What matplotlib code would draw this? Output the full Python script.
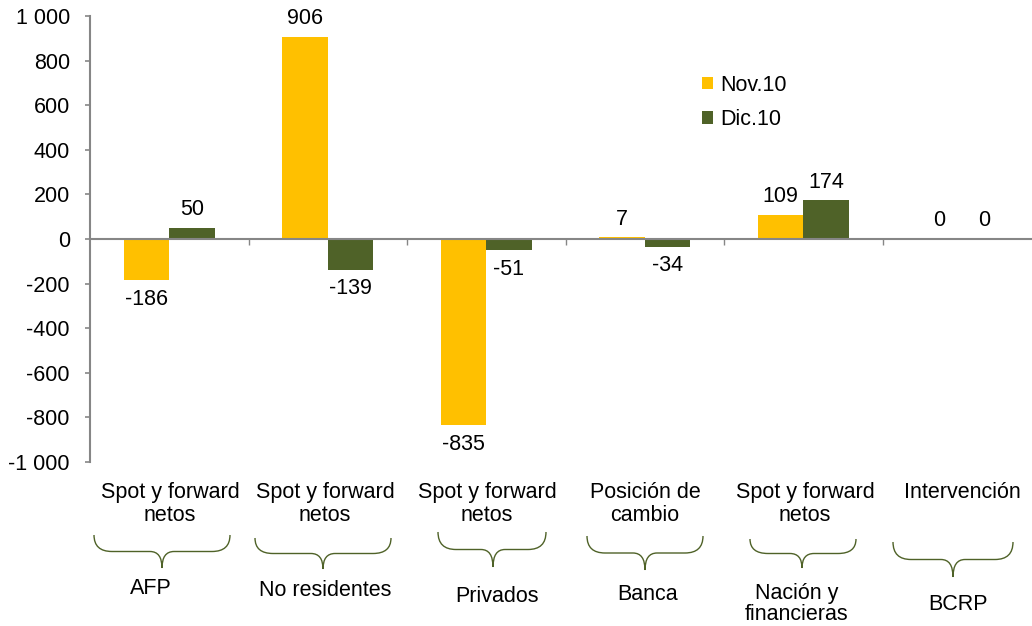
import matplotlib
matplotlib.use("Agg")
import matplotlib.pyplot as plt
from matplotlib.path import Path
from matplotlib.patches import PathPatch

plt.rcParams['font.family'] = ['Liberation Sans', 'DejaVu Sans']

# ---- data ----
top_labels = ["Spot y forward\nnetos", "Spot y forward\nnetos", "Spot y forward\nnetos",
              "Posición de\ncambio", "Spot y forward\nnetos", "Intervención"]
group_labels = ["AFP", "No residentes", "Privados", "Banca", "Nación y\nfinancieras", "BCRP"]
nov10 = [-186, 906, -835, 7, 109, 0]
dic10 = [50, -139, -51, -34, 174, 0]
series_names = ["Nov.10", "Dic.10"]
yticks = [-1000, -800, -600, -400, -200, 0, 200, 400, 600, 800, 1000]
ytick_labels = ["-1 000", "-800", "-600", "-400", "-200", "0", "200", "400", "600", "800", "1 000"]

YELLOW = "#FFC000"
GREEN = "#4F6228"
GRAY = "#868686"
FS = 15.5

W, H = 1032, 626
fig = plt.figure(figsize=(W / 100, H / 100), dpi=100)

def fx(px):
    return px / W

def fy(py):
    return (H - py) / H

ax = fig.add_axes([fx(90), fy(462), fx(1041) - fx(90), fy(16) - fy(462)])
n = len(nov10)
bw = 0.287
xs = [i + 0.5 for i in range(n)]
ax.bar([x - bw / 2 for x in xs], nov10, width=bw, color=YELLOW, label=series_names[0], zorder=2)
ax.bar([x + bw / 2 for x in xs], dic10, width=bw, color=GREEN, label=series_names[1], zorder=2)

ax.set_xlim(0, n)
ax.set_ylim(-1000, 1000)
ax.set_yticks(yticks)
ax.set_yticklabels(ytick_labels, fontsize=FS)
ax.set_xticks(range(1, n + 1))
ax.set_xticklabels([])
ax.tick_params(axis='y', direction='out', length=3.5, color=GRAY, width=1.2, pad=11)
ax.tick_params(axis='x', direction='out', length=4, color=GRAY, width=1.0)
for s in ['top', 'right']:
    ax.spines[s].set_visible(False)
ax.spines['bottom'].set_position(('data', 0))
ax.spines['bottom'].set_color(GRAY)
ax.spines['bottom'].set_linewidth(1.5)
ax.spines['left'].set_color(GRAY)
ax.spines['left'].set_linewidth(1.5)
ax.spines['bottom'].set_zorder(3)

# data labels
for vals, off in ((nov10, -bw / 2), (dic10, bw / 2)):
    for x, v in zip(xs, vals):
        dy = 18 if v >= 0 else -19
        ax.annotate(f"{v}", (x + off, v), xytext=(0, dy), textcoords='offset pixels',
                    ha='center', va='center', fontsize=FS)

# legend
axw = fx(1041) - fx(90)
axh = fy(16) - fy(462)
ax.legend(loc='upper left', bbox_to_anchor=((fx(693) - fx(90)) / axw, (fy(66) - fy(462)) / axh),
          frameon=False, fontsize=FS, handlelength=0.55, handleheight=0.55, handletextpad=0.3,
          labelspacing=0.62, borderaxespad=0)

# category labels and braces (layout in pixels)
top_y = 482
bottom_y = [588, 591, 597, 595, 604, 605]
braces = [(94, 230, 162, 535, 568), (255, 391, 323, 538, 569), (438, 546, 493, 532, 567),
          (587, 703, 645, 536, 570), (750, 856, 802, 539, 568), (893, 1013, 953, 542, 577)]
top_x = [170, 325, 487, 645, 805, 962]
bot_x = [151, 325, 497, 648, 797, 958]

for i in range(n):
    fig.text(fx(top_x[i]), fy(top_y), top_labels[i], ha='center', va='top', fontsize=FS,
             linespacing=1.1)
    fig.text(fx(bot_x[i]), fy(bottom_y[i]), group_labels[i], ha='center', va='center',
             fontsize=FS, linespacing=1.05)
    x0, x1, xm, yt, yb = braces[i]
    ym = (yt + yb) / 2
    r1, r2 = 18, 12
    pts = [(x0, yt), (x0, ym), (x0 + r1, ym), (xm - r2, ym), (xm, ym), (xm, yb),
           (xm, ym), (xm + r2, ym), (x1 - r1, ym), (x1, ym), (x1, yt)]
    codes = [Path.MOVETO, Path.CURVE3, Path.CURVE3, Path.LINETO, Path.CURVE3, Path.CURVE3,
             Path.CURVE3, Path.CURVE3, Path.LINETO, Path.CURVE3, Path.CURVE3]
    path = Path([(fx(a), fy(b)) for a, b in pts], codes)
    fig.add_artist(PathPatch(path, transform=fig.transFigure, fill=False,
                             edgecolor=GREEN, linewidth=1.0))

fig.savefig("out.png", dpi=100)
